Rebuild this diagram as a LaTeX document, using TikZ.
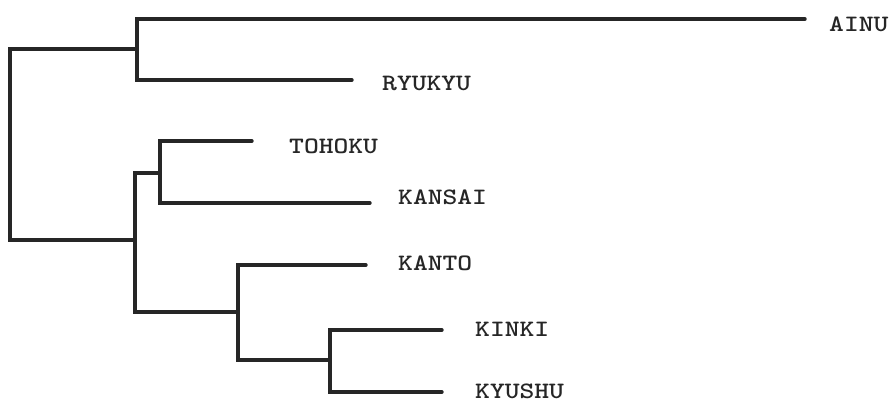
\documentclass[tikz,border=0pt]{standalone}
\begin{document}
\begin{tikzpicture}[x=1pt,y=-1pt,
  branch/.style={line width=3.4pt,line cap=round,line join=miter,black!85},
  leaf/.style={anchor=base west,inner sep=0pt,text depth=0pt,text=black!85,
    font=\ttfamily\bfseries\fontsize{23.5}{23.5}\selectfont}]
\newcommand{\lbl}[1]{\scalebox{1.2}[1]{#1}}
\useasboundingbox (0,0) rectangle (890,402);
% junctions
\coordinate (root) at (10,144);
\coordinate (jA) at (137,49);
\coordinate (jB) at (135,240);
\coordinate (jC) at (160,173);
\coordinate (jD) at (238,312);
\coordinate (jE) at (330,360);
% leaf tips
\coordinate (tA) at (805,19);
\coordinate (tR) at (352,80);
\coordinate (tT) at (252,141);
\coordinate (tKs) at (370,203);
\coordinate (tKo) at (366,265);
\coordinate (tKi) at (442,330);
\coordinate (tKy) at (442,392);
% labels
\node[leaf] (AINU) at (829,31) {\lbl{AINU}};
\node[leaf] (RYUKYU) at (382,90) {\lbl{RYUKYU}};
\node[leaf] (TOHOKU) at (289,153) {\lbl{TOHOKU}};
\node[leaf] (KANSAI) at (398,204) {\lbl{KANSAI}};
\node[leaf] (KANTO) at (398,270) {\lbl{KANTO}};
\node[leaf] (KINKI) at (475,336) {\lbl{KINKI}};
\node[leaf] (KYUSHU) at (475,398) {\lbl{KYUSHU}};
% branches
\draw[branch] (jA) -| (root) |- (jB);
\draw[branch] (tA) -| (jA) |- (tR);
\draw[branch] (jC) -| (jB) |- (jD);
\draw[branch] (tT) -| (jC) |- (tKs);
\draw[branch] (tKo) -| (jD) |- (jE);
\draw[branch] (tKi) -| (jE) |- (tKy);
\end{tikzpicture}
\end{document}
